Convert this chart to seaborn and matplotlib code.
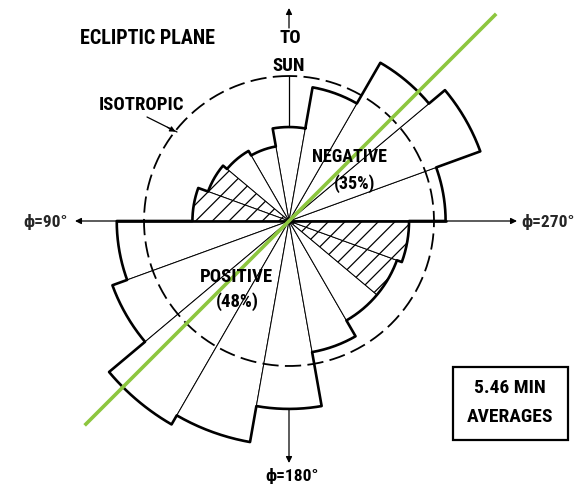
import numpy as np
import pandas as pd
import matplotlib
matplotlib.use("Agg")
import matplotlib.pyplot as plt
from matplotlib.patches import Rectangle, FancyArrowPatch
import seaborn as sns

# Sector centres in azimuth (deg): 0 = sunward, increasing counter-clockwise
phi_centres = [0, 20, 40, 60, 80, 100, 120, 140, 160, 180,
               200, 220, 240, 260, 280, 300, 320, 340]
# Percentage of the 5.46-min averages falling in each 20 deg sector
occurrence = [3.6, 2.9, 3.1, 3.3, 3.7, 6.6, 7.2, 9.0, 8.6, 7.2,
              5.1, 4.4, 4.4, 4.6, 6.0, 7.8, 7.0, 5.2]
# Sectors drawn hatched
hatched_phi = [60, 80, 240, 260]
# Nominal spiral direction through the origin (deg)
spiral_phi = [315, 135]
# Direction labels
dir_labels = ["ϕ=90°", "ϕ=270°", "ϕ=180°"]

bin_width = 20
isotropic = 100 / len(phi_centres)

W, H, DPI = 586, 488, 100
CX, CY = 289, 221          # origin of the rose, pixels from top-left
AX_R = 300                 # radius of the polar axes in pixels
PX_PER_UNIT = 145 / isotropic
RMAX = AX_R / PX_PER_UNIT

sns.set_theme(style="white")
plt.rcParams["font.family"] = ["Roboto Condensed", "Liberation Sans Narrow", "DejaVu Sans"]
plt.rcParams["font.stretch"] = "condensed"
plt.rcParams["hatch.linewidth"] = 0.9

df = pd.DataFrame({"phi": phi_centres, "occ": occurrence})
df["theta"] = np.deg2rad(df["phi"])
df["hatched"] = df["phi"].isin(hatched_phi)

fig = plt.figure(figsize=(W / DPI, H / DPI), dpi=DPI)
fig.patch.set_facecolor("white")
ax = fig.add_axes([(CX - AX_R) / W, (H - CY - AX_R) / H, 2 * AX_R / W, 2 * AX_R / H],
                  projection="polar")
ax.set_theta_zero_location("N")
ax.set_theta_direction(1)
ax.set_ylim(0, RMAX)
ax.axis("off")

width = np.deg2rad(bin_width)
plain = df[~df["hatched"]]
hatch = df[df["hatched"]]
ax.bar(plain["theta"], plain["occ"], width=width, bottom=0, align="center",
       facecolor="white", edgecolor="black", linewidth=0.7, zorder=2)
ax.bar(hatch["theta"], hatch["occ"], width=width, bottom=0, align="center",
       facecolor="white", edgecolor="black", linewidth=0.7, hatch="//", zorder=2)

# Heavy outer envelope of the rose
env_t, env_r = [], []
for p, v in zip(phi_centres, occurrence):
    a = np.linspace(p - bin_width / 2, p + bin_width / 2, 40)
    env_t.extend(a)
    env_r.extend([v] * len(a))
env_t.append(env_t[0])
env_r.append(env_r[0])
env = pd.DataFrame({"t": np.deg2rad(env_t), "r": env_r})
sns.lineplot(data=env, x="t", y="r", sort=False, estimator=None, ax=ax,
             color="black", linewidth=1.9, zorder=4)

# Heavy 90-270 diameter
occ = dict(zip(phi_centres, occurrence))
r_left = max(occ[80], occ[100])
r_right = max(occ[260], occ[280])
ax.plot([np.pi / 2, np.pi / 2, 3 * np.pi / 2, 3 * np.pi / 2],
        [r_left, 0, 0, r_right], color="black", linewidth=1.9, zorder=4)

# Isotropic reference circle
circ_t = np.linspace(0, 2 * np.pi, 400)
circ = pd.DataFrame({"t": circ_t, "r": np.full_like(circ_t, isotropic)})
sns.lineplot(data=circ, x="t", y="r", sort=False, estimator=None, ax=ax,
             color="black", linewidth=1.3, linestyle=(0, (9, 3.5)), zorder=5)

# Spiral direction
ax.plot(np.deg2rad([spiral_phi[0], spiral_phi[0], spiral_phi[1]]),
        [293 / PX_PER_UNIT, 0, 289 / PX_PER_UNIT],
        color="#8DC63F", linewidth=2.6, zorder=6, solid_capstyle="butt")

arrow_kw = dict(arrowstyle="-|>", color="black", lw=0.9, shrinkA=0, shrinkB=0,
                mutation_scale=9)
# Axis direction arrows
ax.annotate("", xy=(np.pi / 2, (CX - 75) / PX_PER_UNIT), xytext=(np.pi / 2, r_left),
            arrowprops=arrow_kw, zorder=5)
ax.annotate("", xy=(3 * np.pi / 2, (517 - CX) / PX_PER_UNIT), xytext=(3 * np.pi / 2, r_right),
            arrowprops=arrow_kw, zorder=5)
ax.annotate("", xy=(np.pi, (463 - CY) / PX_PER_UNIT), xytext=(np.pi, occ[180]),
            arrowprops=arrow_kw, zorder=5)
ax.plot([0, 0], [occ[0], isotropic], color="black", lw=0.9, zorder=5)
ax.annotate("", xy=(0, (CY - 8) / PX_PER_UNIT), xytext=(0, (CY - 28) / PX_PER_UNIT),
            arrowprops=arrow_kw, zorder=5)


def fx(x):
    return x / W


def fy(y):
    return 1 - y / H


txt = dict(ha="center", va="center", fontweight="bold", color="black")
fig.text(fx(147), fy(38), "ECLIPTIC PLANE", fontsize=14.5, **txt)
fig.text(fx(290), fy(38), "TO", fontsize=13.5, **txt)
fig.text(fx(289), fy(66), "SUN", fontsize=13.5, **txt)
fig.text(fx(142), fy(105), "ISOTROPIC", fontsize=13.5, **txt)
fig.text(fx(349), fy(157), "NEGATIVE", fontsize=13, **txt)
fig.text(fx(355), fy(184), "(35%)", fontsize=13, **txt)
fig.text(fx(236), fy(277), "POSITIVE", fontsize=13.5, **txt)
fig.text(fx(237), fy(302), "(48%)", fontsize=13.5, **txt)
fig.text(fx(68), fy(222), dir_labels[0], fontsize=12.5, ha="right", va="center",
         fontweight="bold")
fig.text(fx(521), fy(222), dir_labels[1], fontsize=12.5, ha="left", va="center",
         fontweight="bold")
fig.text(fx(292), fy(476), dir_labels[2], fontsize=12.5, **txt)

fig.add_artist(plt.Line2D([fx(147), fx(177)], [fy(117), fy(132)], color="black", lw=0.9))
fig.patches.append(FancyArrowPatch(
    (fx(165), fy(126)), (fx(178), fy(133)), transform=fig.transFigure,
    arrowstyle="-|>", mutation_scale=8, color="black", lw=0.9))

fig.add_artist(Rectangle((fx(453), fy(440)), (568 - 453) / W, (440 - 367) / H,
                         transform=fig.transFigure, fill=False, ec="black", lw=1.6))
fig.text(fx(510), fy(388), "5.46 MIN", fontsize=14, **txt)
fig.text(fx(510), fy(417), "AVERAGES", fontsize=14, **txt)

fig.savefig("out.png", dpi=DPI, facecolor="white")
